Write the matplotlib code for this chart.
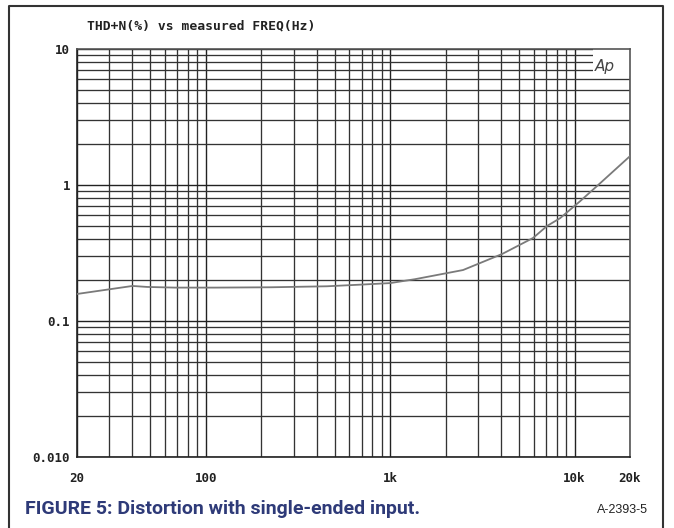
import numpy as np
import matplotlib.pyplot as plt
from matplotlib.ticker import FixedLocator, FixedFormatter, LogLocator, NullFormatter
from matplotlib.patches import Rectangle
from matplotlib.lines import Line2D

# THD+N (%)
freq = [20, 40, 48, 68, 112, 226, 454, 687, 1000, 1365, 2485, 4050, 5960,
        7100, 8350, 10720, 13770, 20000]
thd = [0.158, 0.181, 0.178, 0.176, 0.176, 0.177, 0.180, 0.185, 0.190, 0.203,
       0.237, 0.311, 0.408, 0.50, 0.57, 0.76, 1.03, 1.63]

xticks = [20, 100, 1000, 10000, 20000]
xlabels = ['20', '100', '1k', '10k', '20k']
yticks = [0.01, 0.1, 1, 10]
ylabels = ['0.010', '0.1', '1', '10']

mono = {'family': 'DejaVu Sans Mono', 'weight': 'bold'}

fig = plt.figure(figsize=(6.74, 5.28), dpi=100)
ax = fig.add_axes([77/674, 1-457/528, (630-77)/674, (457-49)/528])

ax.plot(freq, thd, color='#7a7a7a', lw=1.3, zorder=3)

ax.set_xscale('log')
ax.set_yscale('log')
ax.set_xlim(20, 20000)
ax.set_ylim(0.01, 10)

ax.xaxis.set_major_locator(FixedLocator(xticks))
ax.xaxis.set_major_formatter(FixedFormatter(xlabels))
ax.yaxis.set_major_locator(FixedLocator(yticks))
ax.yaxis.set_major_formatter(FixedFormatter(ylabels))
ax.xaxis.set_minor_locator(LogLocator(subs=range(2, 10)))
ax.yaxis.set_minor_locator(LogLocator(subs=range(2, 10)))
ax.xaxis.set_minor_formatter(NullFormatter())
ax.yaxis.set_minor_formatter(NullFormatter())
ax.tick_params(which='both', length=0)
ax.tick_params(axis='x', pad=11)
ax.tick_params(axis='y', pad=5)
for lab in ax.get_xticklabels() + ax.get_yticklabels():
    lab.set_fontfamily(mono['family'])
    lab.set_fontweight('bold')
    lab.set_fontsize(9)
    lab.set_color('#222222')

ax.grid(which='major', color='#222222', lw=1.0)
ax.grid(which='minor', color='#333333', lw=0.95)
for s in ax.spines.values():
    s.set_color('#555555')
    s.set_linewidth(1.2)
ax.spines['left'].set_color('#222222')
ax.spines['bottom'].set_color('#222222')

# Ap logo box
ax.add_patch(Rectangle((12600, 6.35), 20000 - 12600, 10 - 6.35, facecolor='white',
                       edgecolor='none', zorder=2))
ax.text(0.972, 0.975, 'Ap', transform=ax.transAxes, ha='right', va='top',
        fontsize=11, style='italic', family='DejaVu Sans', color='#444444',
        fontweight='light', zorder=4)

fig.text(87/674, 1-26/528, 'THD+N(%) vs measured FREQ(Hz)', ha='left', va='center',
         color='#222222', fontsize=9.4, **mono)

# page frame
fig.add_artist(Line2D([9/674, 9/674, 663/674, 663/674], [0, 1-6/528, 1-6/528, 0],
                      transform=fig.transFigure, color='#333333', lw=1.5))

fig.text(25/674, 1-509/528, 'FIGURE 5: Distortion with single-ended input.',
         ha='left', va='center', fontsize=14, fontweight='bold', color='#2e3a78',
         family=['Liberation Sans Narrow', 'Roboto', 'DejaVu Sans'])
fig.text(648/674, 1-510/528, 'A-2393-5', ha='right', va='center', fontsize=9,
         color='#222222', family='Liberation Sans')

fig.savefig('out.png', dpi=100)
